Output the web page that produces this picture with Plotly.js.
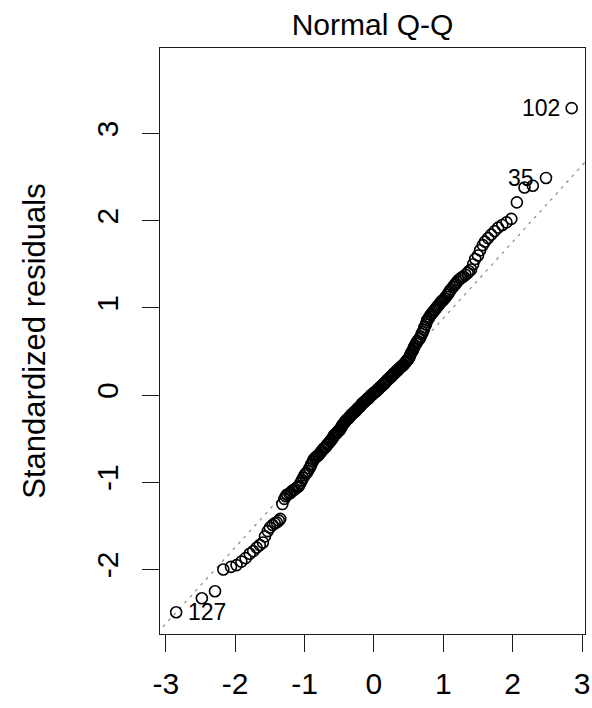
<!DOCTYPE html>
<html>
<head>
<meta charset="utf-8">
<script src="https://cdn.plot.ly/plotly-3.0.1.min.js"></script>
<style>
html, body { margin: 0; padding: 0; background: #fff; }
#chart { width: 592px; height: 708px; }
</style>
</head>
<body>
<div id="chart"></div>
<script>
// Theoretical quantiles (x)
var theoreticalQuantiles = [
  -2.85,-2.48,-2.29,-2.17,-2.06,-1.98,-1.91,-1.85,-1.79,-1.74,
  -1.69,-1.645,-1.60,-1.57,-1.53,-1.50,-1.46,-1.43,-1.40,-1.37,
  -1.35,-1.32,-1.29,-1.27,-1.25,-1.22,-1.20,-1.18,-1.16,-1.14,
  -1.11,-1.09,-1.08,-1.06,-1.04,-1.02,-1.00,-0.98,-0.97,-0.95,
  -0.93,-0.91,-0.90,-0.88,-0.87,-0.85,-0.83,-0.82,-0.80,-0.79,
  -0.77,-0.76,-0.75,-0.73,-0.72,-0.70,-0.69,-0.674,-0.66,-0.65,
  -0.63,-0.62,-0.61,-0.59,-0.58,-0.57,-0.56,-0.54,-0.53,-0.52,
  -0.51,-0.49,-0.48,-0.47,-0.46,-0.45,-0.43,-0.42,-0.41,-0.40,
  -0.39,-0.37,-0.36,-0.35,-0.34,-0.33,-0.32,-0.30,-0.29,-0.28,
  -0.27,-0.26,-0.25,-0.24,-0.23,-0.21,-0.20,-0.19,-0.18,-0.17,
  -0.16,-0.15,-0.14,-0.13,-0.11,-0.10,-0.09,-0.08,-0.07,-0.06,
  -0.05,-0.04,-0.03,-0.02,-0.005,
  0.005,0.02,0.03,0.04,0.05,0.06,0.07,0.08,0.09,0.10,
  0.11,0.13,0.14,0.15,0.16,0.17,0.18,0.19,0.20,0.21,
  0.23,0.24,0.25,0.26,0.27,0.28,0.29,0.30,0.32,0.33,
  0.34,0.35,0.36,0.37,0.39,0.40,0.41,0.42,0.43,0.45,
  0.46,0.47,0.48,0.49,0.51,0.52,0.53,0.54,0.56,0.57,
  0.58,0.59,0.61,0.62,0.63,0.65,0.66,0.674,0.69,0.70,
  0.72,0.73,0.75,0.76,0.77,0.79,0.80,0.82,0.83,0.85,
  0.87,0.88,0.90,0.91,0.93,0.95,0.97,0.98,1.00,1.02,
  1.04,1.06,1.08,1.09,1.11,1.14,1.16,1.18,1.20,1.22,
  1.25,1.27,1.29,1.32,1.35,1.37,1.40,1.43,1.46,1.50,
  1.53,1.57,1.60,1.645,1.69,1.74,1.79,1.85,1.91,1.98,
  2.06,2.17,2.29,2.48,2.85
];

// Standardized residuals (y), sorted
var standardizedResiduals = [
  -2.49,-2.33,-2.25,-2.00,-1.97,-1.95,-1.91,-1.87,-1.82,-1.79,
  -1.75,-1.72,-1.69,-1.62,-1.56,-1.52,-1.49,-1.47,-1.46,-1.44,
  -1.42,-1.25,-1.19,-1.16,-1.14,-1.13,-1.12,-1.10,-1.09,-1.08,
  -1.06,-1.05,-1.04,-1.01,-0.98,-0.95,-0.92,-0.90,-0.89,-0.87,
  -0.84,-0.81,-0.79,-0.76,-0.74,-0.72,-0.71,-0.70,-0.69,-0.68,
  -0.66,-0.65,-0.64,-0.62,-0.61,-0.60,-0.59,-0.57,-0.56,-0.55,
  -0.53,-0.52,-0.51,-0.49,-0.47,-0.46,-0.45,-0.44,-0.43,-0.42,
  -0.41,-0.40,-0.38,-0.37,-0.35,-0.34,-0.32,-0.31,-0.30,-0.29,
  -0.28,-0.27,-0.26,-0.25,-0.24,-0.23,-0.22,-0.21,-0.20,-0.19,
  -0.19,-0.18,-0.17,-0.16,-0.15,-0.14,-0.13,-0.12,-0.11,-0.10,
  -0.09,-0.09,-0.08,-0.07,-0.06,-0.05,-0.04,-0.04,-0.03,-0.02,
  -0.01,0.00,0.00,0.01,0.02,
  0.03,0.04,0.04,0.05,0.06,0.07,0.07,0.08,0.09,0.10,
  0.10,0.12,0.13,0.13,0.14,0.15,0.16,0.17,0.18,0.18,
  0.20,0.21,0.21,0.22,0.23,0.24,0.25,0.25,0.27,0.28,
  0.28,0.29,0.30,0.31,0.32,0.33,0.34,0.34,0.35,0.37,
  0.38,0.39,0.40,0.41,0.43,0.45,0.47,0.49,0.51,0.53,
  0.55,0.57,0.59,0.61,0.62,0.64,0.65,0.67,0.70,0.72,
  0.75,0.78,0.81,0.84,0.86,0.88,0.90,0.92,0.93,0.95,
  0.97,0.98,1.00,1.01,1.03,1.05,1.07,1.08,1.09,1.11,
  1.13,1.15,1.17,1.19,1.21,1.24,1.26,1.28,1.30,1.32,
  1.34,1.35,1.36,1.38,1.40,1.42,1.44,1.50,1.56,1.60,
  1.66,1.72,1.76,1.80,1.84,1.88,1.92,1.95,1.98,2.02,
  2.21,2.38,2.40,2.49,3.29
];

// Labelled observations: observation id and rank position in the sorted series
var labelIds = ["102", "35", "127"];
var labelRanks = [229, 228, 0];
var labelSides = ["left", "left", "right"];

// Reference (qqline)
var qqlineSlope = 0.876;
var qqlineIntercept = 0.005;

var xTickValues = [-3, -2, -1, 0, 1, 2, 3];
var yTickValues = [-2, -1, 0, 1, 2, 3];
var xRange = [-3.083, 3.042];
var yRange = [-2.74, 3.98];

var FONT = "'Liberation Sans', Arial, sans-serif";
var INK = "#1a1a1a";

var lineX = [xRange[0] - 0.5, xRange[1] + 0.5];
var lineY = lineX.map(function (v) { return qqlineIntercept + qqlineSlope * v; });

var traces = [
  {
    x: lineX, y: lineY, type: "scatter", mode: "lines",
    line: { color: "#8c8c8c", width: 1.2, dash: "3px,5px" },
    hoverinfo: "skip", showlegend: false
  },
  {
    x: theoreticalQuantiles, y: standardizedResiduals,
    type: "scatter", mode: "markers",
    marker: { symbol: "circle-open", size: 11, color: "#000", line: { width: 1.6, color: "#000" } },
    showlegend: false, cliponaxis: false
  }
];

var annotations = labelIds.map(function (id, k) {
  var r = labelRanks[k];
  var left = labelSides[k] === "left";
  return {
    x: theoreticalQuantiles[r], y: standardizedResiduals[r],
    xref: "x", yref: "y", text: id, showarrow: false,
    xanchor: left ? "right" : "left", yanchor: "middle",
    xshift: left ? -10 : 10,
    font: { family: FONT, size: 23, color: "#000" }
  };
});

var axisCommon = {
  showgrid: false, zeroline: false,
  showline: true, mirror: true, linecolor: INK, linewidth: 1,
  ticks: "outside", ticklen: 17, tickwidth: 1, tickcolor: INK,
  tickfont: { family: FONT, size: 30, color: "#000" },
  tickmode: "array", fixedrange: true
};

var layout = {
  width: 592, height: 708,
  margin: { l: 160, r: 7, t: 48, b: 74, pad: 0 },
  paper_bgcolor: "#fff", plot_bgcolor: "#fff",
  showlegend: false,
  title: {
    text: "Normal Q-Q",
    font: { family: FONT, size: 30, color: "#000" },
    x: (160 + 585) / 2 / 592, xanchor: "center",
    y: 1 - 24 / 708, yanchor: "middle", yref: "container"
  },
  xaxis: Object.assign({}, axisCommon, {
    range: xRange, tickvals: xTickValues,
    ticktext: xTickValues.map(String),
    ticklabelstandoff: 6
  }),
  yaxis: Object.assign({}, axisCommon, {
    range: yRange, tickvals: yTickValues,
    ticktext: yTickValues.map(String),
    tickangle: -90,
    ticklabelstandoff: 12,
    title: { text: "Standardized residuals", font: { family: FONT, size: 31, color: "#000" }, standoff: 36 }
  }),
  annotations: annotations
};

Plotly.newPlot("chart", traces, layout, { displayModeBar: false, staticPlot: true });
</script>
</body>
</html>
